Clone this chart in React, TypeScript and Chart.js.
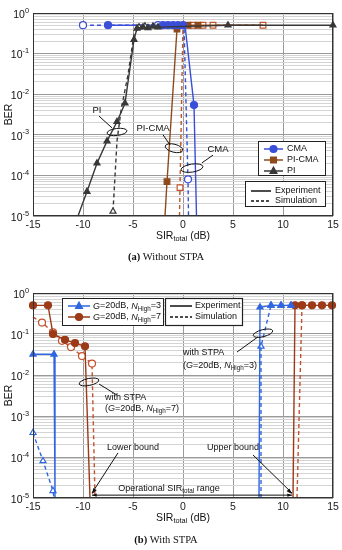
import React, { useEffect, useRef } from "react";
import { Chart, registerables } from "chart.js";
Chart.register(...registerables);

const FONT = '"Liberation Sans", Arial, sans-serif';
const SERIF = '"Liberation Serif", "DejaVu Serif", serif';

const xTickValues = [-15, -10, -5, 0, 5, 10, 15];
const decadeExps = [0, -1, -2, -3, -4, -5];

// ---------- (a) Without STPA ----------
const cmaExpX = [-7.5, -2, -1.5, -1, -0.5, 0, 0.2, 1.1, 1.35];
const cmaExpY = [0.5, 0.5, 0.5, 0.5, 0.5, 0.5, 0.5, 5.4e-3, 1e-5];
const cmaExpMarks = [1, 1, 1, 1, 1, 1, 0, 1, 0];
const cmaSimX = [-10, -7.5, -2.5, 0.1, 0.5, 0.55];
const cmaSimY = [0.5, 0.5, 0.5, 0.5, 8e-5, 1e-5];
const cmaSimMarks = [1, 0, 1, 0, 1, 0];

const picmaExpX = [-1.8, -1.6, -0.6, 0.5, 1.5, 8];
const picmaExpY = [1e-5, 7e-5, 0.4, 0.5, 0.5, 0.5];
const picmaExpMarks = [0, 1, 1, 1, 1, 0];
const picmaSimX = [-0.35, -0.3, 0, 1, 2, 3, 8];
const picmaSimY = [1e-5, 5e-5, 0.5, 0.5, 0.5, 0.5, 0.5];
const picmaSimMarks = [0, 1, 0, 1, 1, 1, 1];

const piExpX = [-10.5, -9.6, -8.6, -7.6, -6.6, -5.8, -4.9, -4.6, -4, -3.5, -3, -2.5, 4.5, 15];
const piExpY = [1e-5, 4e-5, 2e-4, 7e-4, 2.1e-3, 6e-3, 0.22, 0.42, 0.45, 0.43, 0.47, 0.45, 0.5, 0.5];
const piExpMarks = [0, 1, 1, 1, 1, 1, 1, 1, 1, 1, 1, 1, 1, 1];
const piSimX = [-7, -6.6, -6.2, -5.5, -4.9, -4.4, -3.8];
const piSimY = [1.3e-5, 7e-4, 4e-3, 3e-2, 0.3, 0.45, 0.47];
const piSimMarks = [1, 0, 0, 0, 0, 1, 1];

// ---------- (b) With STPA ----------
const n3ExpLX = [-15, -12.9, -12.8];
const n3ExpLY = [0.032, 0.032, 1e-5];
const n3ExpLMarks = [1, 1, 0];
const n3ExpRX = [7.6, 7.7, 8.8, 9.8, 10.8];
const n3ExpRY = [1e-5, 0.45, 0.5, 0.5, 0.5];
const n3ExpRMarks = [0, 1, 1, 1, 1];
const n3SimLX = [-15, -14, -13, -12.9];
const n3SimLY = [3.9e-4, 8e-5, 1.5e-5, 1e-5];
const n3SimLMarks = [1, 1, 1, 0];
const n3SimRX = [7.8, 7.8, 8.8, 9.8, 10.8];
const n3SimRY = [1e-5, 0.05, 0.5, 0.5, 0.5];
const n3SimRMarks = [0, 1, 1, 1, 1];

const n7ExpLX = [-15, -13.5, -13, -11.8, -10.8, -9.8, -9.3];
const n7ExpLY = [0.5, 0.5, 0.1, 0.072, 0.06, 0.05, 1e-5];
const n7ExpLMarks = [1, 1, 1, 1, 1, 1, 0];
const n7ExpRX = [11, 11.2, 11.9, 12.9, 13.9, 14.9];
const n7ExpRY = [1e-5, 0.5, 0.5, 0.5, 0.5, 0.5];
const n7ExpRMarks = [0, 1, 1, 1, 1, 1];
const n7SimLX = [-15, -14.1, -13, -12.1, -11.2, -10.1, -9.1, -8.8];
const n7SimLY = [0.26, 0.19, 0.11, 0.068, 0.048, 0.029, 0.019, 1e-5];
const n7SimLMarks = [0, 1, 1, 1, 1, 1, 1, 0];
const n7SimRX = [11.4, 11.9, 12.9, 13.9, 14.9];
const n7SimRY = [1e-5, 0.5, 0.5, 0.5, 0.5];
const n7SimRMarks = [0, 1, 0, 0, 0];

const BLUE_A = "#3a4ed8";
const BROWN_A = "#8e4a1c";
const BROWN_A_SIM = "#c0562e";
const GRAY_A = "#383838";
const BLUE_B = "#2f66e0";
const RED_B = "#9c3a18";
const RED_B_SIM = "#c4502c";

type Seg = { t: string; it?: boolean; sub?: boolean; sup?: boolean; bold?: boolean };

function rich(ctx: CanvasRenderingContext2D, segs: Seg[], x: number, y: number, size: number, align: string, family = FONT, color = "#111") {
  const fontFor = (s: Seg) =>
    `${s.it ? "italic " : ""}${s.bold ? "bold " : ""}${s.sub || s.sup ? size * 0.7 : size}px ${family}`;
  let w = 0;
  for (const s of segs) {
    ctx.font = fontFor(s);
    w += ctx.measureText(s.t).width;
  }
  let cx = align === "left" ? x : align === "center" ? x - w / 2 : x - w;
  ctx.textBaseline = "middle";
  ctx.textAlign = "left";
  ctx.fillStyle = color;
  for (const s of segs) {
    ctx.font = fontFor(s);
    const dy = s.sub ? size * 0.32 : s.sup ? -size * 0.42 : 0;
    ctx.fillText(s.t, cx, y + dy);
    cx += ctx.measureText(s.t).width;
  }
}

function drawMarker(ctx: CanvasRenderingContext2D, style: string, x: number, y: number, r: number, fill: string, stroke: string) {
  ctx.beginPath();
  if (style === "circle") ctx.arc(x, y, r, 0, Math.PI * 2);
  else if (style === "rect") {
    const s = r * 0.85;
    ctx.rect(x - s, y - s, 2 * s, 2 * s);
  } else {
    ctx.moveTo(x, y - r * 1.15);
    ctx.lineTo(x + r, y + r * 0.7);
    ctx.lineTo(x - r, y + r * 0.7);
    ctx.closePath();
  }
  ctx.fillStyle = fill;
  ctx.fill();
  ctx.strokeStyle = stroke;
  ctx.lineWidth = 1.2;
  ctx.stroke();
}

function lineSample(ctx: CanvasRenderingContext2D, x1: number, x2: number, y: number, color: string, dashed: boolean) {
  ctx.save();
  ctx.beginPath();
  ctx.setLineDash(dashed ? [3, 2] : []);
  ctx.strokeStyle = color;
  ctx.lineWidth = 1.5;
  ctx.moveTo(x1, y);
  ctx.lineTo(x2, y);
  ctx.stroke();
  ctx.restore();
}

function arrowHead(ctx: CanvasRenderingContext2D, x1: number, y1: number, x2: number, y2: number, size = 6) {
  const a = Math.atan2(y2 - y1, x2 - x1);
  ctx.beginPath();
  ctx.moveTo(x2, y2);
  ctx.lineTo(x2 - size * Math.cos(a - 0.35), y2 - size * Math.sin(a - 0.35));
  ctx.lineTo(x2 - size * Math.cos(a + 0.35), y2 - size * Math.sin(a + 0.35));
  ctx.closePath();
  ctx.fill();
}

function series(xs: number[], ys: number[], marks: number[], color: string, dashed: boolean, style: string, filled: boolean, r = 3.5) {
  return {
    data: xs.map((x, i) => ({ x, y: ys[i] })),
    borderColor: color,
    backgroundColor: color,
    pointBackgroundColor: filled ? color : "#ffffff",
    pointBorderColor: color,
    pointBorderWidth: 1.2,
    borderWidth: 1.4,
    borderDash: dashed ? [4, 3] : [],
    pointStyle: style,
    pointRadius: marks.map((m) => (m ? r : 0)),
    pointHoverRadius: 0,
    tension: 0,
    fill: false,
    clip: 4,
  };
}

function baseOptions(padTop: number, xAxisH: number) {
  return {
    animation: false,
    responsive: false,
    maintainAspectRatio: false,
    events: [],
    layout: { padding: { top: padTop, right: 9, left: 0, bottom: 0 } },
    plugins: { legend: { display: false }, tooltip: { enabled: false } },
    scales: {
      x: {
        type: "linear",
        min: -15,
        max: 15,
        afterBuildTicks: (s: any) => {
          s.ticks = xTickValues.map((v) => ({ value: v }));
        },
        ticks: { font: { family: FONT, size: 10.5 }, color: "#1a1a1a", padding: 3, maxRotation: 0, autoSkip: false, callback: (v: any) => String(v) },
        grid: { color: "#9a9a9a", lineWidth: 1, drawTicks: false },
        border: { display: false },
        afterFit: (s: any) => {
          s.height = xAxisH;
        },
      },
      y: {
        type: "logarithmic",
        min: 1e-5,
        max: 1,
        afterBuildTicks: (s: any) => {
          const t: any[] = [];
          for (let e = -5; e <= 0; e++) {
            for (let m = 1; m <= 9; m++) {
              const v = m * Math.pow(10, e);
              if (v <= 1.0000001) t.push({ value: v });
            }
          }
          s.ticks = t;
        },
        ticks: { display: false },
        grid: {
          drawTicks: false,
          lineWidth: 1,
          color: (c: any) => {
            const v = c.tick ? c.tick.value : 1;
            const l = Math.log10(v);
            return Math.abs(l - Math.round(l)) < 1e-6 ? "#9a9a9a" : "#d4d4d4";
          },
        },
        border: { display: false },
        afterFit: (s: any) => {
          s.width = 33;
        },
      },
    },
  };
}

function drawFrame(chart: any, caption: Seg[], captionY: number) {
  const ctx: CanvasRenderingContext2D = chart.ctx;
  const { left, right, top, bottom } = chart.chartArea;
  const ys = chart.scales.y;
  ctx.save();
  ctx.strokeStyle = "#333";
  ctx.lineWidth = 1;
  ctx.strokeRect(left + 0.5, top + 0.5, right - left - 1, bottom - top - 1);
  for (const e of decadeExps) {
    const y = ys.getPixelForValue(Math.pow(10, e));
    rich(ctx, [{ t: "10" }, { t: String(e), sup: true }], left - 4, y + 2, 10.5, "right");
  }
  // y title
  ctx.save();
  ctx.translate(9, (top + bottom) / 2);
  ctx.rotate(-Math.PI / 2);
  rich(ctx, [{ t: "BER" }], 0, 0, 10.5, "center");
  ctx.restore();
  // x title
  rich(ctx, [{ t: "SIR" }, { t: "total", sub: true }, { t: " (dB)" }], (left + right) / 2, bottom + 20, 10.5, "center");
  rich(ctx, caption, 166, captionY, 10.5, "center", SERIF, "#111");
  ctx.restore();
}

const topPlugin = {
  id: "topDecor",
  afterDraw(chart: any) {
    const ctx: CanvasRenderingContext2D = chart.ctx;
    const xs = chart.scales.x;
    const ys = chart.scales.y;
    const px = (x: number) => xs.getPixelForValue(x);
    const py = (dec: number) => ys.getPixelForValue(Math.pow(10, -dec));
    drawFrame(chart, [{ t: "(a)", bold: true }, { t: " Without STPA" }], 257);
    ctx.save();
    ctx.strokeStyle = "#111";
    ctx.lineWidth = 1;
    // annotations
    const ell = (x: number, d: number, rx: number, ry: number, rot: number) => {
      ctx.beginPath();
      ctx.ellipse(px(x), py(d), rx, ry, rot, 0, Math.PI * 2);
      ctx.stroke();
    };
    const seg = (x1: number, d1: number, x2: number, d2: number) => {
      ctx.beginPath();
      ctx.moveTo(px(x1), py(d1));
      ctx.lineTo(px(x2), py(d2));
      ctx.stroke();
    };
    rich(ctx, [{ t: "PI" }], px(-8.6), py(2.39), 9.5, "center");
    seg(-8.4, 2.54, -7.1, 2.83);
    ell(-6.6, 2.93, 10, 3.5, -0.12);
    rich(ctx, [{ t: "PI-CMA" }], px(-3), py(2.83), 9.5, "center");
    seg(-2, 3.0, -1.3, 3.25);
    ell(-0.9, 3.33, 9, 4, 0.25);
    rich(ctx, [{ t: "CMA" }], px(3.5), py(3.35), 9.5, "center");
    seg(3, 3.5, 1.9, 3.69);
    ell(0.9, 3.82, 11, 4, -0.15);

    // legend box 1
    ctx.fillStyle = "#fff";
    ctx.fillRect(258, 141, 67, 34);
    ctx.strokeStyle = "#222";
    ctx.strokeRect(258.5, 141.5, 67, 34);
    const lg = [
      { t: "CMA", c: BLUE_A, s: "circle", y: 149 },
      { t: "PI-CMA", c: BROWN_A, s: "rect", y: 160 },
      { t: "PI", c: GRAY_A, s: "triangle", y: 171 },
    ];
    for (const e of lg) {
      lineSample(ctx, 264, 283, e.y, e.c, false);
      drawMarker(ctx, e.s, 273.5, e.y, 3.5, e.c, e.c);
      rich(ctx, [{ t: e.t }], 287, e.y, 9, "left");
    }
    // legend box 2
    ctx.fillStyle = "#fff";
    ctx.fillRect(245, 181, 80, 25);
    ctx.strokeStyle = "#222";
    ctx.lineWidth = 1;
    ctx.strokeRect(245.5, 181.5, 80, 25);
    lineSample(ctx, 251, 271, 191, "#111", false);
    rich(ctx, [{ t: "Experiment" }], 275, 191, 9, "left");
    lineSample(ctx, 251, 271, 201, "#111", true);
    rich(ctx, [{ t: "Simulation" }], 275, 201, 9, "left");
    ctx.restore();
  },
};

const botPlugin = {
  id: "botDecor",
  afterDraw(chart: any) {
    const ctx: CanvasRenderingContext2D = chart.ctx;
    const xs = chart.scales.x;
    const ys = chart.scales.y;
    const px = (x: number) => xs.getPixelForValue(x);
    const py = (dec: number) => ys.getPixelForValue(Math.pow(10, -dec));
    drawFrame(chart, [{ t: "(b)", bold: true }, { t: " With STPA" }], 270);
    ctx.save();
    ctx.strokeStyle = "#111";
    ctx.fillStyle = "#111";
    ctx.lineWidth = 1;
    const ell = (x: number, d: number, rx: number, ry: number, rot: number) => {
      ctx.beginPath();
      ctx.ellipse(px(x), py(d), rx, ry, rot, 0, Math.PI * 2);
      ctx.stroke();
    };
    const seg = (x1: number, d1: number, x2: number, d2: number) => {
      ctx.beginPath();
      ctx.moveTo(px(x1), py(d1));
      ctx.lineTo(px(x2), py(d2));
      ctx.stroke();
    };
    // N=3 annotation
    rich(ctx, [{ t: "with STPA" }], px(0), py(1.46), 9, "left");
    rich(ctx, [{ t: "(" }, { t: "G", it: true }, { t: "=20dB, " }, { t: "N", it: true }, { t: "High", sub: true }, { t: "=3)" }], px(0), py(1.76), 9, "left");
    seg(5.4, 1.44, 7.5, 1.07);
    ell(8, 0.98, 10, 3.5, -0.25);
    // N=7 annotation
    rich(ctx, [{ t: "with STPA" }], px(-7.8), py(2.56), 9, "left");
    rich(ctx, [{ t: "(" }, { t: "G", it: true }, { t: "=20dB, " }, { t: "N", it: true }, { t: "High", sub: true }, { t: "=7)" }], px(-7.8), py(2.82), 9, "left");
    seg(-8.4, 2.22, -6.6, 2.49);
    ell(-9.4, 2.17, 10, 3.5, -0.2);
    // bounds
    rich(ctx, [{ t: "Lower bound" }], px(-7.6), py(3.78), 9, "left");
    ctx.strokeStyle = "#111";
    seg(-6.5, 3.9, -9.1, 4.88);
    arrowHead(ctx, px(-6.5), py(3.9), px(-9.1), py(4.9));
    rich(ctx, [{ t: "Upper bound" }], px(2.4), py(3.78), 9, "left");
    seg(7, 3.95, 10.9, 4.88);
    arrowHead(ctx, px(7), py(3.95), px(10.9), py(4.9));
    rich(ctx, [{ t: "Operational SIR" }, { t: "total", sub: true }, { t: " range" }], px(-1.4), py(4.76), 9, "left" === "x" ? "left" : "center");
    const yA = py(4.93);
    ctx.beginPath();
    ctx.moveTo(px(-9.1), yA);
    ctx.lineTo(px(10.9), yA);
    ctx.stroke();
    arrowHead(ctx, px(0), yA, px(-9.1), yA, 5);
    arrowHead(ctx, px(0), yA, px(10.9), yA, 5);

    // legend box 1
    ctx.fillStyle = "#fff";
    ctx.fillRect(62, 28, 101, 27);
    ctx.strokeStyle = "#222";
    ctx.strokeRect(62.5, 28.5, 101, 27);
    lineSample(ctx, 68, 90, 36, BLUE_B, false);
    drawMarker(ctx, "triangle", 79, 36, 3.5, BLUE_B, BLUE_B);
    rich(ctx, [{ t: "G", it: true }, { t: "=20dB, " }, { t: "N", it: true }, { t: "High", sub: true }, { t: "=3" }], 93, 36, 9, "left");
    lineSample(ctx, 68, 90, 47, RED_B, false);
    drawMarker(ctx, "circle", 79, 47, 3.5, RED_B, RED_B);
    rich(ctx, [{ t: "G", it: true }, { t: "=20dB, " }, { t: "N", it: true }, { t: "High", sub: true }, { t: "=7" }], 93, 47, 9, "left");
    // legend box 2
    ctx.fillStyle = "#fff";
    ctx.fillRect(165, 28, 77, 27);
    ctx.strokeStyle = "#222";
    ctx.strokeRect(165.5, 28.5, 77, 27);
    lineSample(ctx, 170, 192, 36, "#111", false);
    rich(ctx, [{ t: "Experiment" }], 195, 36, 9, "left");
    lineSample(ctx, 170, 192, 47, "#111", true);
    rich(ctx, [{ t: "Simulation" }], 195, 47, 9, "left");
    ctx.restore();
  },
};

function buildTop() {
  return {
    type: "line",
    data: {
      datasets: [
        series(piExpX, piExpY, piExpMarks, GRAY_A, false, "triangle", true),
        series(piSimX, piSimY, piSimMarks, GRAY_A, true, "triangle", false),
        series(cmaExpX, cmaExpY, cmaExpMarks, BLUE_A, false, "circle", true),
        series(cmaSimX, cmaSimY, cmaSimMarks, BLUE_A, true, "circle", false),
        series(picmaExpX, picmaExpY, picmaExpMarks, BROWN_A, false, "rect", true, 4),
        series(picmaSimX, picmaSimY, picmaSimMarks, BROWN_A_SIM, true, "rect", false, 4),
      ],
    },
    options: baseOptions(13, 54),
    plugins: [topPlugin],
  };
}

function buildBottom() {
  return {
    type: "line",
    data: {
      datasets: [
        series(n3ExpLX, n3ExpLY, n3ExpLMarks, BLUE_B, false, "triangle", true),
        series(n3ExpRX, n3ExpRY, n3ExpRMarks, BLUE_B, false, "triangle", true),
        series(n3SimLX, n3SimLY, n3SimLMarks, BLUE_B, true, "triangle", false),
        series(n3SimRX, n3SimRY, n3SimRMarks, BLUE_B, true, "triangle", false),
        series(n7ExpLX, n7ExpLY, n7ExpLMarks, RED_B, false, "circle", true),
        series(n7ExpRX, n7ExpRY, n7ExpRMarks, RED_B, false, "circle", true),
        series(n7SimLX, n7SimLY, n7SimLMarks, RED_B_SIM, true, "circle", false),
        series(n7SimRX, n7SimRY, n7SimRMarks, RED_B_SIM, true, "circle", false),
      ],
    },
    options: baseOptions(23, 52),
    plugins: [botPlugin],
  };
}

function ChartCanvas({ width, height, build }: { width: number; height: number; build: () => any }) {
  const ref = useRef<HTMLCanvasElement>(null);
  useEffect(() => {
    const chart = new Chart(ref.current as HTMLCanvasElement, build());
    return () => chart.destroy();
  }, []);
  return <canvas ref={ref} width={width} height={height} style={{ display: "block", width, height }} />;
}

export default function App() {
  useEffect(() => {
    document.body.style.margin = "0";
    document.body.style.background = "#fff";
  }, []);
  return (
    <div style={{ position: "absolute", left: 0, top: 0, width: 342, height: 550, background: "#fff" }}>
      <ChartCanvas width={342} height={270} build={buildTop} />
      <ChartCanvas width={342} height={280} build={buildBottom} />
    </div>
  );
}
